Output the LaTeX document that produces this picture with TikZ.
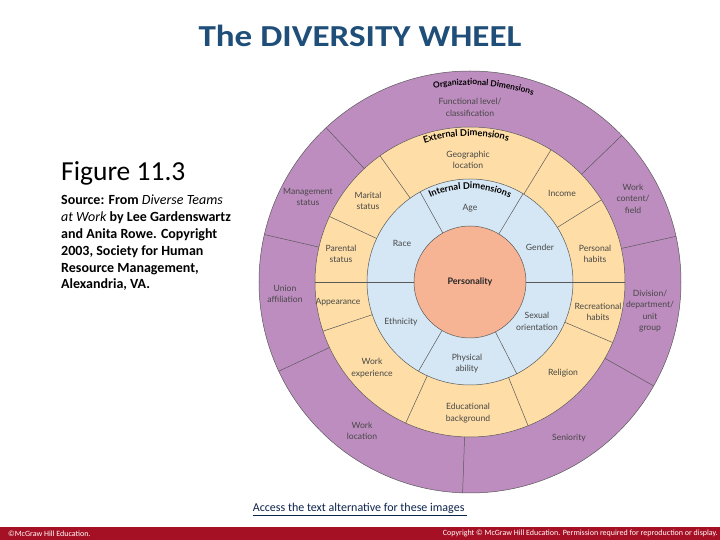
\documentclass[tikz,border=0pt]{standalone}
\usepackage{fontspec}
\setmainfont{Carlito}
\newfontfamily\wheelfont{Lato}
\usetikzlibrary{decorations.text}
\definecolor{orgpurple}{RGB}{190,141,192}
\definecolor{extorange}{RGB}{254,222,166}
\definecolor{intblue}{RGB}{213,231,245}
\definecolor{corepeach}{RGB}{247,180,148}
\definecolor{titleblue}{RGB}{31,78,121}
\definecolor{linknavy}{RGB}{12,35,75}
\definecolor{barred}{RGB}{166,16,36}
\tikzset{
  ringlabel/.style={align=center,inner sep=0pt,text=black!72,
    font=\wheelfont\fontsize{8.6}{11.5}\selectfont},
  corelabel/.style={align=center,inner sep=0pt,text=black!85,
    font=\wheelfont\bfseries\fontsize{9}{10}\selectfont},
  ringline/.style={draw=black!65,line width=0.5pt},
  ringhead/.style 2 args={decorate,decoration={text along path,text align=center,
    text={|\wheelfont\bfseries\fontsize{#1}{10}\selectfont|#2}}},
  slidetext/.style={inner sep=0pt,align=left},
  barnote/.style={inner sep=0pt,text=white,font=\fontsize{8}{9}\selectfont}
}
\begin{document}
\begin{tikzpicture}[x=1pt,y=1pt]
  \useasboundingbox (-470,-258) rectangle (250,282);
  % the wheel
  \filldraw[ringline,fill=orgpurple] (0,0) circle[radius=211pt];
  \filldraw[ringline,fill=extorange] (0,0) circle[radius=155pt];
  \filldraw[ringline,fill=intblue] (0,0) circle[radius=103pt];
  \filldraw[ringline,fill=corepeach] (0,0) circle[radius=56pt];
  \foreach \a in {12.5,44,133,167,205,268,330.5}
    \draw[ringline] (\a:155) -- (\a:211);
  \foreach \a in {0,32,58.5,125.5,155,180,198.5,245.5,292,337}
    \draw[ringline] (\a:103) -- (\a:155);
  \foreach \a in {0,59,119,180,240,297}
    \draw[ringline] (\a:56) -- (\a:103);
  % ring headings
  \path[ringhead={8.4}{Organizational Dimensions}] (104:197) arc[start angle=104,end angle=68,radius=197pt];
  \path[ringhead={9.3}{External Dimensions}] (112:146) arc[start angle=112,end angle=71,radius=146pt];
  \path[ringhead={9.2}{Internal Dimensions}] (122:93) arc[start angle=122,end angle=58,radius=93pt];
  % organizational dimensions
  \node[ringlabel] (functional) at (0,174.5) {Functional level/\\classification};
  \node[ringlabel] (management) at (-162,85) {Management\\status};
  \node[ringlabel] (union) at (-185,-12) {Union\\affiliation};
  \node[ringlabel] (worklocation) at (-108,-149) {Work\\location};
  \node[ringlabel] (seniority) at (99,-156) {Seniority};
  \node[ringlabel] (division) at (180,-29) {Division/\\department/\\unit\\group};
  \node[ringlabel] (workcontent) at (163,83.5) {Work\\content/\\field};
  % external dimensions
  \node[ringlabel] (geographic) at (-2,122) {Geographic\\location};
  \node[ringlabel] (marital) at (-102,81) {Marital\\status};
  \node[ringlabel] (income) at (92,89) {Income};
  \node[ringlabel] (parental) at (-129,28) {Parental\\status};
  \node[ringlabel] (personal) at (125,28) {Personal\\habits};
  \node[ringlabel] (appearance) at (-132,-20) {Appearance};
  \node[ringlabel] (recreational) at (128,-30) {Recreational\\habits};
  \node[ringlabel] (workexp) at (-98,-86) {Work\\experience};
  \node[ringlabel] (religion) at (93,-91) {Religion};
  \node[ringlabel] (educational) at (-2,-131) {Educational\\background};
  % internal dimensions
  \node[ringlabel] (age) at (0,74) {Age};
  \node[ringlabel] (race) at (-68,39) {Race};
  \node[ringlabel] (gender) at (70,35) {Gender};
  \node[ringlabel] (ethnicity) at (-69,-40) {Ethnicity};
  \node[ringlabel] (sexual) at (67,-39.5) {Sexual\\orientation};
  \node[ringlabel] (physical) at (-3,-81.5) {Physical\\ability};
  \node[corelabel] (personality) at (0,0) {Personality};
  % slide texts
  \node[anchor=base,inner sep=0pt,text=titleblue,font=\bfseries\fontsize{30.5}{36}\selectfont] (title) at (-110,235) {\scalebox{1.15}[1]{The DIVERSITY WHEEL}};
  \node[anchor=base west,inner sep=0pt,font=\fontsize{27.5}{30}\selectfont] (figno) at (-409,101) {Figure 11.3};
  \node[slidetext,anchor=north west,font=\bfseries\fontsize{14}{16.8}\selectfont] (source) at (-409,87)
    {Source: From {\normalfont\itshape Diverse Teams}\\{\normalfont\itshape at Work} by Lee Gardenswartz\\and Anita Rowe. Copyright\\2003, Society for Human\\Resource Management,\\Alexandria, VA.};
  \node[anchor=base,inner sep=0pt,text=linknavy,font=\fontsize{12}{14}\selectfont] (access) at (-110,-230) {\underline{Access the text alternative for these images }};
  % footer bar
  \fill[barred] (-470,-258) rectangle (250,-245);
  \node[barnote,anchor=west] (barleft) at (-462,-251.5) {©McGraw Hill Education.};
  \node[barnote,anchor=east] (barright) at (248,-251.5) {Copyright © McGraw Hill Education. Permission required for reproduction or display.};
\end{tikzpicture}
\end{document}
